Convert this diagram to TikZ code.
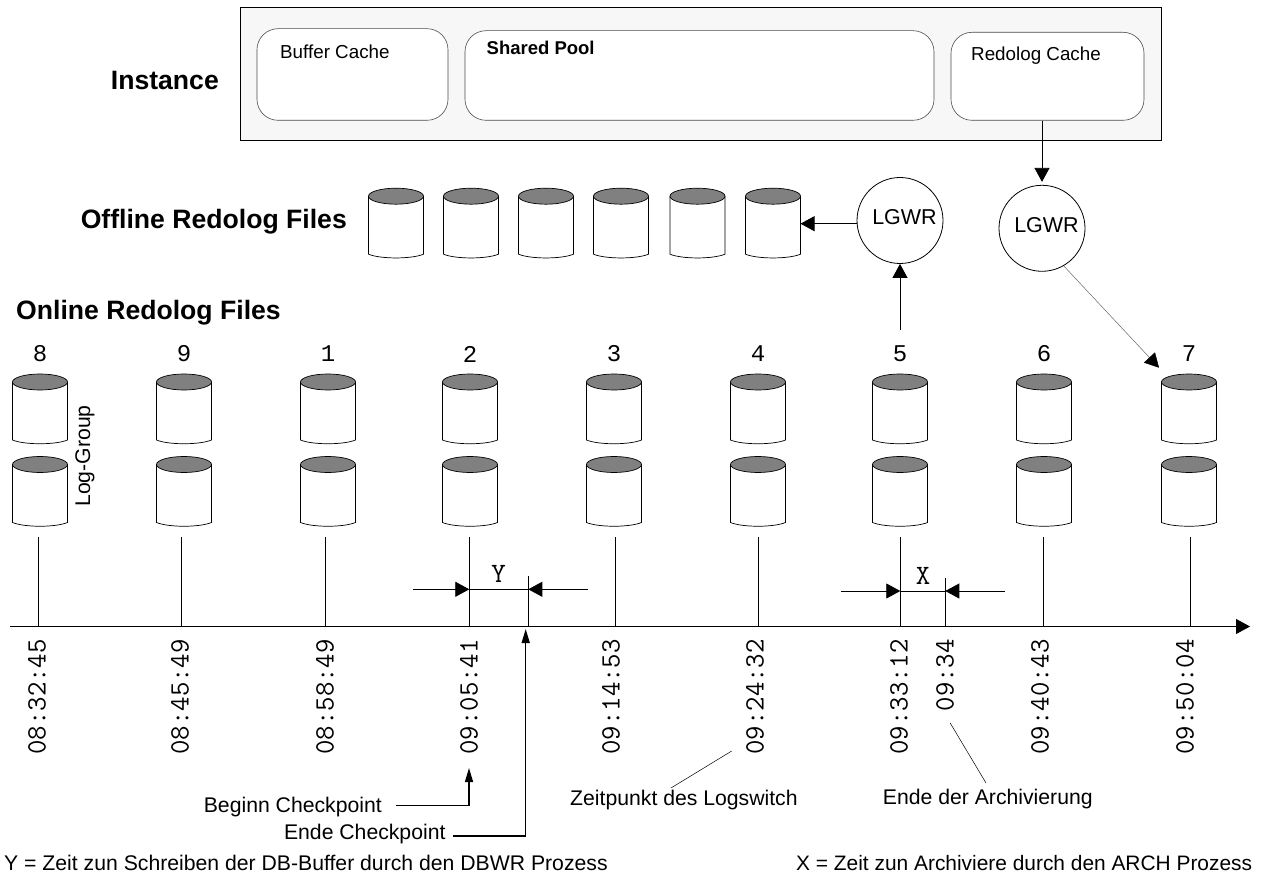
\documentclass[tikz,border=0pt]{standalone}
\usepackage{fontspec}
\setmainfont{Liberation Sans}
\newfontfamily\numfont{Liberation Mono}
\usetikzlibrary{arrows.meta, shapes.geometric, calc, positioning}
\definecolor{instanceGray}{HTML}{F7F7F7}
\definecolor{diskGray}{HTML}{808080}
\tikzset{
    instanceBox/.style={draw, line width=0.9pt, fill=instanceGray, inner sep=0pt},
    cacheBox/.style={draw=black!70, fill=white, rectangle, rounded corners=21pt, line width=0.6pt, inner sep=0pt},
    diskBox/.style={rectangle, minimum width=55pt, minimum height=71pt, inner sep=0pt, outer sep=0pt},
    lgwrNode/.style={circle, draw, line width=0.8pt, minimum size=86pt, inner sep=0pt, text depth=7pt, font=\fontsize{21.5}{24}\selectfont},
    plainText/.style={inner sep=0pt, font=\fontsize{21.2}{24}\selectfont},
    cacheText/.style={inner sep=0pt, anchor=west, font=\fontsize{18.8}{22}\selectfont},
    headText/.style={inner sep=0pt, font=\fontsize{26.6}{30}\selectfont\bfseries},
    monoText/.style={inner sep=0pt, font=\fontsize{28}{30}\selectfont\ttfamily},
    numText/.style={inner sep=0pt, font=\fontsize{24}{26}\selectfont\numfont},
    timeText/.style={monoText, rotate=90, anchor=east},
    flowArrow/.style={-{Triangle[length=14pt, width=15pt]}, line width=0.8pt},
    thinArrow/.style={line width=0.5pt, draw=black!60, -{Triangle[length=14pt, width=15pt, black]}},
    bentArrow/.style={-{Triangle[length=14pt, width=8pt]}, line width=1.4pt},
    noteLine/.style={line width=0.5pt},
    tickLine/.style={line width=0.8pt},
}
\newcommand{\drawDisk}[3]{
    \node[diskBox] (#1) at (#2,#3) {};
    \draw[line width=0.7pt, fill=white] ([yshift=-8pt]#1.north west) -- ([yshift=5pt]#1.south west) .. controls +(12,5) and +(-12,5) .. ([yshift=5pt]#1.south east) -- ([yshift=-8pt]#1.north east);
    \draw[line width=0.7pt, fill=diskGray] ([yshift=-8pt]#1.north) ellipse [x radius=27.5pt, y radius=8pt];
}
% #1 group, #2 disk x, #3 tick x, #4 time x, #5 time
\newcommand{\drawGroup}[5]{
    \node[numText] (num#1) at (#2,354) {#1};
    \drawDisk{diskTop#1}{#2}{409.5}
    \drawDisk{diskLow#1}{#2}{492}
    \coordinate (tick#1) at (#3,537);
    \draw[tickLine] (tick#1) -- (tick#1 |- axisStart);
    \node[timeText] (time#1) at (#4,639) {#5};
}
\begin{document}
\begin{tikzpicture}[x=1pt, y=-1pt]
    \useasboundingbox (0,0) rectangle (1274,874);

    \node[instanceBox, minimum width=921pt, minimum height=133pt] (instance) at (701,73.8) {};
    \node[cacheBox, minimum width=191pt, minimum height=91.6pt] (bufferCache) at (352.5,74.5) {};
    \node[cacheBox, minimum width=469pt, minimum height=89.6pt] (sharedPool) at (699.5,75.5) {};
    \node[cacheBox, minimum width=193pt, minimum height=88pt] (redologCache) at (1047.5,76.3) {};
    \node[cacheText] (bufferText) at (280,52) {Buffer Cache};
    \node[cacheText, font=\fontsize{18.5}{22}\selectfont\bfseries] (sharedText) at (486.5,48) {Shared Pool};
    \node[cacheText] (redologText) at (971,55.7) {Redolog Cache};

    \node[headText, anchor=east] (instanceText) at (219,80) {Instance};
    \node[headText, anchor=east] (offlineText) at (347,222) {Offline Redolog Files};
    \node[headText, anchor=west] (onlineText) at (16,313) {Online Redolog Files};

    \drawDisk{offline1}{396}{223.7}
    \drawDisk{offline2}{471}{223.7}
    \drawDisk{offline3}{546}{223.7}
    \drawDisk{offline4}{621}{223.7}
    \drawDisk{offline5}{697.5}{223.7}
    \drawDisk{offline6}{773}{223.7}

    \node[lgwrNode] (lgwrA) at (900,220.5) {\hspace{9pt}LGWR};
    \node[lgwrNode] (lgwrB) at (1042,228.3) {\hspace{9pt}LGWR};

    \coordinate (axisStart) at (10,626.5);
    \coordinate (axisEnd) at (1250,626.5);
    \draw[flowArrow] (axisStart) -- (axisEnd);

    \drawGroup{8}{40}{38}{37}{08:32:45}
    \drawGroup{9}{184}{181}{180}{08:45:49}
    \drawGroup{1}{328}{325}{325}{08:58:49}
    \drawGroup{2}{470}{469.3}{469}{09:05:41}
    \drawGroup{3}{614}{615.7}{611}{09:14:53}
    \drawGroup{4}{758}{758}{755}{09:24:32}
    \drawGroup{5}{900}{900.3}{899}{09:33:12}
    \drawGroup{6}{1044}{1043.3}{1040}{09:40:43}
    \drawGroup{7}{1189}{1190.3}{1185}{09:50:04}

    \node[plainText, rotate=90] (logGroup) at (85,456) {Log-Group};

    \draw[flowArrow, shorten >=3pt] (redologCache.south -| lgwrB) -- (lgwrB.north);
    \draw[flowArrow] (offline6 -| lgwrA.west) -- (offline6.east);
    \coordinate (lgwrFeed) at (900,330);
    \draw[flowArrow] (lgwrFeed) -- (lgwrA.south);
    \coordinate (diskSeven) at (1159,367.7);
    \draw[thinArrow] (lgwrB.-60) -- (diskSeven);

    % Y
    \coordinate (yLeft) at (413,589.3);
    \coordinate (yStart) at (469.3,589.3);
    \coordinate (yEnd) at (528.3,589.3);
    \coordinate (yRight) at (588,589.3);
    \coordinate (yTick) at (528.3,576);
    \draw[tickLine] (yTick) -- (yTick |- axisStart);
    \draw[tickLine] (yStart) -- (yEnd);
    \draw[flowArrow] (yLeft) -- (yStart);
    \draw[flowArrow] (yRight) -- (yEnd);
    \node[monoText] (yText) at (498.7,574) {Y};

    % X
    \coordinate (xLeft) at (841,591);
    \coordinate (xStart) at (900.3,591);
    \coordinate (xEnd) at (945.3,591);
    \coordinate (xRight) at (1004.7,591);
    \coordinate (xTick) at (945.3,578);
    \draw[tickLine] (xTick) -- (xTick |- axisStart);
    \draw[tickLine] (xStart) -- (xEnd);
    \draw[flowArrow] (xLeft) -- (xStart);
    \draw[flowArrow] (xRight) -- (xEnd);
    \node[monoText] (xText) at (923,576) {X};
    \node[timeText] (timeArch) at (945,639) {09:34};

    \node[plainText, anchor=east] (beginText) at (382,807) {Beginn Checkpoint};
    \node[plainText, anchor=east] (endText) at (445.7,834) {Ende Checkpoint};
    \coordinate (beginFrom) at (395.7,805.7);
    \coordinate (beginTip) at (469,768);
    \coordinate (endFrom) at (453,836);
    \coordinate (endTip) at (525.7,629);
    \draw[bentArrow] (beginFrom) -| (beginTip);
    \draw[bentArrow] (endFrom) -| (endTip);

    \node[plainText, anchor=west] (switchText) at (570,800) {Zeitpunkt des Logswitch};
    \node[plainText, anchor=west] (archText) at (882.7,799) {Ende der Archivierung};
    \coordinate (switchFrom) at (671,788);
    \coordinate (switchTo) at (731.7,751);
    \coordinate (archFrom) at (986,783);
    \coordinate (archTo) at (950,722.7);
    \draw[noteLine] (switchFrom) -- (switchTo);
    \draw[noteLine] (archFrom) -- (archTo);

    \node[plainText, anchor=west] (yNote) at (4,863) {Y = Zeit zun Schreiben der DB-Buffer durch den DBWR Prozess};
    \node[plainText, anchor=west, font=\fontsize{20.9}{24}\selectfont] (xNote) at (796,863) {X = Zeit zun Archiviere durch den ARCH Prozess};
\end{tikzpicture}
\end{document}
